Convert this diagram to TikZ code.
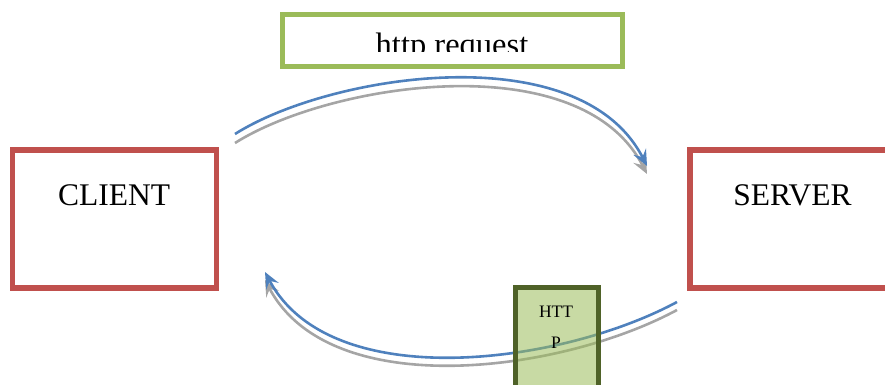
\documentclass[tikz,border=0pt]{standalone}
\usepackage{fontspec}
\setmainfont{Liberation Serif}
\usetikzlibrary{arrows.meta}
\definecolor{boxred}{HTML}{C0504D}
\definecolor{reqgreen}{HTML}{9BBB59}
\definecolor{olivedark}{HTML}{4F6228}
\definecolor{flowblue}{HTML}{4F81BD}
\definecolor{flowgray}{HTML}{A5A5A5}
\tikzset{
  hostbox/.style={draw=boxred, line width=5.5pt, minimum width=204pt, minimum height=138pt, inner sep=0pt},
  reqbox/.style={draw=reqgreen, line width=4.8pt, minimum width=340pt, minimum height=52pt, inner sep=0pt},
  respbox/.style={draw=olivedark, line width=5pt, fill=reqgreen, fill opacity=0.55, draw opacity=1, text opacity=1,
    minimum width=83pt, minimum height=112.5pt, inner sep=0pt},
  biglabel/.style={font=\fontsize{31.5}{36}\selectfont, inner sep=0pt, anchor=base},
  smalllabel/.style={font=\fontsize{17.5}{20}\selectfont, inner sep=0pt, anchor=base},
  flowline/.style={line width=2.6pt, -{Stealth[length=16pt, width=14pt, inset=6pt]}},
}
\begin{document}
\begin{tikzpicture}[x=1pt, y=-1pt]
\useasboundingbox (0,0) rectangle (885,385);
\clip (0,0) rectangle (885,385);

% client and server boxes
\node[hostbox] (client) at (114.5,219) {};
\node[biglabel] (clientlbl) at (114,205.5) {CLIENT};
\node[hostbox, minimum width=200pt] (server) at (790,219) {};
\node[biglabel] (serverlbl) at (792.5,205.5) {SERVER};

% request label box, its text cut off along the lower edge
\node[reqbox] (reqbox) at (452.5,40.5) {};
\begin{scope}
  \clip (282,10) rectangle (623,52);
  \node[biglabel, font=\fontsize{32.5}{36}\selectfont] (reqlbl) at (452,56) {http request};
\end{scope}

% connector end points
\coordinate (reqBlueA) at (235,134);
\coordinate (reqBlueB) at (647,166);
\coordinate (reqGrayA) at (235,143);
\coordinate (reqGrayB) at (647,174);
\coordinate (respBlueA) at (677,302);
\coordinate (respBlueB) at (265,272);
\coordinate (respGrayA) at (677,310);
\coordinate (respGrayB) at (265,280);

% request arrows (client -> server)
\draw[flowline, flowgray] (reqGrayA) .. controls (330,83) and (580,44) .. (reqGrayB);
\draw[flowline, flowblue] (reqBlueA) .. controls (330,74) and (580,35) .. (reqBlueB);

% response arrows (server -> client)
\draw[flowline, flowgray] (respGrayA) .. controls (560,373) and (330,403) .. (respGrayB);
\draw[flowline, flowblue] (respBlueA) .. controls (560,365) and (330,395) .. (respBlueB);

% response label box over the arrows
\node[respbox] (respbox) at (557,343.75) {};
\node[smalllabel] (resplblA) at (556,317) {HTT};
\node[smalllabel] (resplblB) at (556,348) {P};
\end{tikzpicture}
\end{document}
